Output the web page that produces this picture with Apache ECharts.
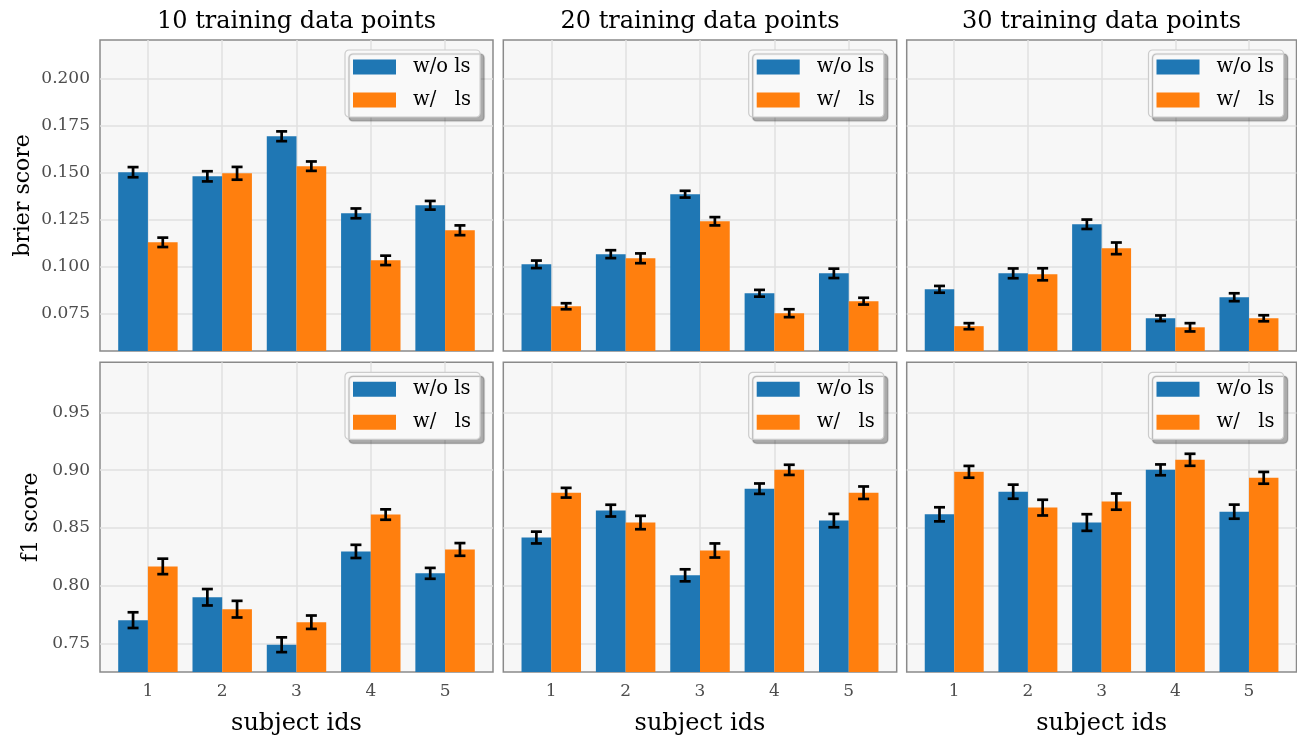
<!DOCTYPE html>
<html>
<head>
<meta charset="utf-8">
<script src="https://cdn.jsdelivr.net/npm/echarts@6/dist/echarts.min.js"></script>
<style>
  html, body { margin: 0; padding: 0; background: #fff; }
  #main { width: 1297px; height: 737px; }
</style>
</head>
<body>
<div id="main"></div>
<script>
// ---- data ----
const subjects = [1, 2, 3, 4, 5];
const columnTitles = ['10 training data points', '20 training data points', '30 training data points'];
const seriesNames = ['w/o ls', 'w/   ls'];

// brier score, one row per column (10 / 20 / 30 training points)
const brierMeanWo = [
  [0.1504, 0.1482, 0.1695, 0.1285, 0.1328],
  [0.1014, 0.1068, 0.1387, 0.0860, 0.0966],
  [0.0881, 0.0966, 0.1227, 0.0727, 0.0839]
];
const brierErrWo = [
  [0.0027, 0.0027, 0.0026, 0.0026, 0.0023],
  [0.0020, 0.0021, 0.0018, 0.0018, 0.0025],
  [0.0018, 0.0026, 0.0025, 0.0015, 0.0021]
];
const brierMeanW = [
  [0.1131, 0.1498, 0.1536, 0.1035, 0.1195],
  [0.0791, 0.1046, 0.1243, 0.0754, 0.0818],
  [0.0685, 0.0961, 0.1099, 0.0679, 0.0727]
];
const brierErrW = [
  [0.0025, 0.0034, 0.0025, 0.0025, 0.0026],
  [0.0016, 0.0026, 0.0022, 0.0021, 0.0018],
  [0.0016, 0.0032, 0.0031, 0.0022, 0.0016]
];

// f1 score
const f1MeanWo = [
  [0.7702, 0.7900, 0.7489, 0.8297, 0.8107],
  [0.8417, 0.8650, 0.8090, 0.8840, 0.8564],
  [0.8618, 0.8814, 0.8547, 0.9003, 0.8641]
];
const f1ErrWo = [
  [0.0068, 0.0071, 0.0064, 0.0057, 0.0047],
  [0.0051, 0.0051, 0.0052, 0.0045, 0.0058],
  [0.0061, 0.0061, 0.0072, 0.0047, 0.0061]
];
const f1MeanW = [
  [0.8167, 0.7797, 0.7684, 0.8616, 0.8314],
  [0.8805, 0.8547, 0.8305, 0.9003, 0.8805],
  [0.8986, 0.8676, 0.8728, 0.9090, 0.8934]
];
const f1ErrW = [
  [0.0067, 0.0072, 0.0058, 0.0045, 0.0055],
  [0.0042, 0.0058, 0.0061, 0.0044, 0.0054],
  [0.0051, 0.0068, 0.0070, 0.0052, 0.0051]
];

const brierTicks = [0.075, 0.100, 0.125, 0.150, 0.175, 0.200];
const f1Ticks = [0.75, 0.80, 0.85, 0.90, 0.95];

// ---- layout / style ----
const FONT = 'DejaVu Serif';
const BLUE = '#1f77b4', ORANGE = '#ff7f0e';
const BAR_W = 0.4;
const X_RANGE = [0.355, 5.645];
const panelLeft = [100, 503.3, 906.7];
const panelWidth = [393, 393.4, 389.8];
const rowTop = [40, 362.3];
const rowHeight = 311;
const rows = [
  { name: 'brier score', ticks: brierTicks, range: [0.0553, 0.2207], digits: 3, nameGap: 66,
    mean: [brierMeanWo, brierMeanW], err: [brierErrWo, brierErrW] },
  { name: 'f1 score', ticks: f1Ticks, range: [0.7253, 0.9934], digits: 2, nameGap: 58,
    mean: [f1MeanWo, f1MeanW], err: [f1ErrWo, f1ErrW] }
];

// bar + error bar, side 0 = left bar of the pair, side 1 = right bar
function barRenderer(side) {
  return function (params, api) {
    const x = api.value(0), v = api.value(1), e = api.value(2);
    const cs = params.coordSys;
    const base = cs.y + cs.height;
    const x0 = x + (side - 1) * BAR_W;
    const p0 = api.coord([x0, v]);
    const p1 = api.coord([x0 + BAR_W, v]);
    const cx = api.coord([x0 + BAR_W / 2, v])[0];
    const top = api.coord([x, v + e])[1];
    const bot = api.coord([x, v - e])[1];
    const cap = 5.5;
    const ln = { stroke: '#000', lineWidth: 2.7 };
    return {
      type: 'group',
      children: [
        { type: 'rect', shape: { x: p0[0], y: p0[1], width: p1[0] - p0[0], height: base - p0[1] },
          style: { fill: api.visual('color') } },
        { type: 'line', shape: { x1: cx, y1: top, x2: cx, y2: bot }, style: ln },
        { type: 'line', shape: { x1: cx - cap, y1: top, x2: cx + cap, y2: top }, style: ln },
        { type: 'line', shape: { x1: cx - cap, y1: bot, x2: cx + cap, y2: bot }, style: ln }
      ]
    };
  };
}

const grids = [], xAxes = [], yAxes = [], series = [], legends = [], titles = [];

rows.forEach(function (row, r) {
  for (let c = 0; c < 3; c++) {
    const gi = grids.length;
    grids.push({
      left: panelLeft[c], top: rowTop[r], width: panelWidth[c], height: rowHeight,
      show: true, backgroundColor: '#f7f7f7', borderColor: '#8a8a8a', borderWidth: 1.5
    });
    xAxes.push({
      type: 'value', gridIndex: gi, min: X_RANGE[0], max: X_RANGE[1],
      axisLine: { show: false },
      axisTick: { show: false, customValues: subjects },
      axisLabel: { show: r === 1, customValues: subjects, margin: 11,
        color: '#4d4d4d', fontFamily: FONT, fontSize: 17 },
      splitLine: { show: true, lineStyle: { color: '#e0e0e0', width: 1.5 } },
      name: r === 1 ? 'subject ids' : '', nameLocation: 'middle', nameGap: 40,
      nameTextStyle: { fontFamily: FONT, fontSize: 24, color: '#000' }
    });
    yAxes.push({
      type: 'value', gridIndex: gi, min: row.range[0], max: row.range[1],
      axisLine: { show: false },
      axisTick: { show: false, customValues: row.ticks },
      axisLabel: { show: c === 0, customValues: row.ticks, margin: 10,
        color: '#4d4d4d', fontFamily: FONT, fontSize: 17,
        formatter: function (v) { return v.toFixed(row.digits); } },
      splitLine: { show: true, lineStyle: { color: '#e0e0e0', width: 1.5 } },
      name: c === 0 ? row.name : '', nameLocation: 'middle', nameGap: row.nameGap,
      nameTextStyle: { fontFamily: FONT, fontSize: 22, color: '#000' }
    });
    [0, 1].forEach(function (s) {
      series.push({
        type: 'custom', name: seriesNames[s], xAxisIndex: gi, yAxisIndex: gi,
        itemStyle: { color: s === 0 ? BLUE : ORANGE },
        renderItem: barRenderer(s),
        encode: { x: 0, y: 1 },
        data: subjects.map(function (id, i) {
          return [id, row.mean[s][c][i], row.err[s][c][i]];
        })
      });
    });
    legends.push({
      data: seriesNames, orient: 'vertical', icon: 'rect',
      left: panelLeft[c] + panelWidth[c] - 148, top: rowTop[r] + 10,
      itemWidth: 43, itemHeight: 15, itemGap: 13, padding: [7, 9, 7, 8],
      backgroundColor: '#f9f9f9', borderColor: '#cccccc', borderWidth: 1.2, borderRadius: 4,
      shadowColor: 'rgba(0,0,0,0.3)', shadowBlur: 1, shadowOffsetX: 4, shadowOffsetY: 4,
      textStyle: { fontFamily: FONT, fontSize: 19.5, color: '#000', padding: [0, 0, 0, 12] },
      selectedMode: false
    });
  }
});

columnTitles.forEach(function (t, c) {
  titles.push({
    text: t, left: panelLeft[c] + panelWidth[c] / 2, top: 10, textAlign: 'center', padding: 0,
    textStyle: { fontFamily: FONT, fontSize: 24, fontWeight: 'normal', color: '#000' }
  });
});

const chart = echarts.init(document.getElementById('main'));
chart.setOption({
  animation: false,
  backgroundColor: '#ffffff',
  title: titles,
  grid: grids,
  xAxis: xAxes,
  yAxis: yAxes,
  legend: legends,
  series: series
});
</script>
</body>
</html>
